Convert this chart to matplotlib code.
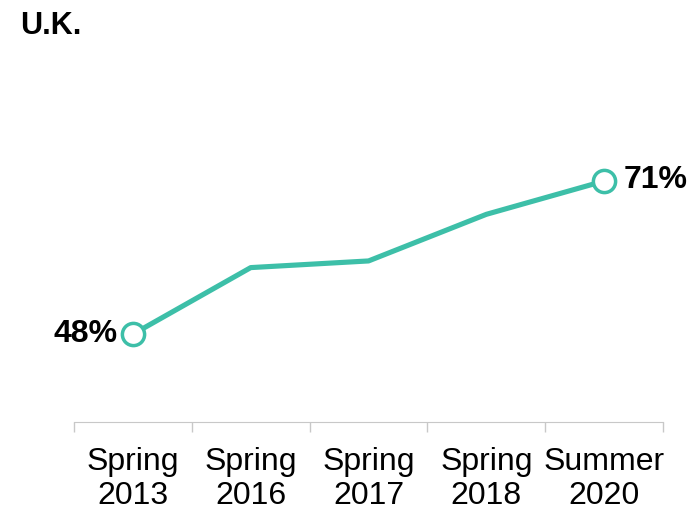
import matplotlib.pyplot as plt

plt.rcParams['font.family'] = ['Liberation Sans', 'DejaVu Sans']

periods = ['Spring\n2013', 'Spring\n2016', 'Spring\n2017', 'Spring\n2018', 'Summer\n2020']
values = [48, 58, 59, 66, 71]
teal = '#3dbfa8'

fig = plt.figure(figsize=(6.93, 5.11), dpi=100)
ax = fig.add_axes([0.1068, 0.174, 0.85, 0.748])

x = list(range(len(values)))
ax.plot(x, values, color=teal, lw=3.7, solid_capstyle='round', zorder=2)
# open circles on the first and last points
ax.plot([x[0], x[-1]], [values[0], values[-1]], 'o', ms=16, mfc='white',
        mec=teal, mew=2.5, zorder=3)

ax.annotate(f'{values[0]}%', (x[0], values[0]), xytext=(-11, 0), textcoords='offset points',
            ha='right', va='center', fontsize=23, fontweight='bold')
ax.annotate(f'{values[-1]}%', (x[-1], values[-1]), xytext=(14, 1), textcoords='offset points',
            ha='left', va='center', fontsize=23, fontweight='bold')

ax.set_xlim(-0.5, 4.5)
ax.set_ylim(34.8, 92.2)
ax.set_xticks([i - 0.5 for i in range(6)], minor=False)
ax.set_xticklabels([])
ax.set_xticks(x, minor=True)
ax.set_xticklabels(periods, minor=True, fontsize=23, linespacing=1.18)
ax.tick_params(axis='x', which='major', length=7, width=1, color='#c8c8c8')
ax.tick_params(axis='x', which='minor', length=0, pad=18)
ax.set_yticks([])
for s in ['top', 'right', 'left']:
    ax.spines[s].set_visible(False)
ax.spines['bottom'].set_color('#c8c8c8')

fig.text(0.029, 1 - 34 / 511, 'U.K.', fontsize=22, fontweight='bold', ha='left', va='baseline')

fig.savefig('out.png', dpi=100)
